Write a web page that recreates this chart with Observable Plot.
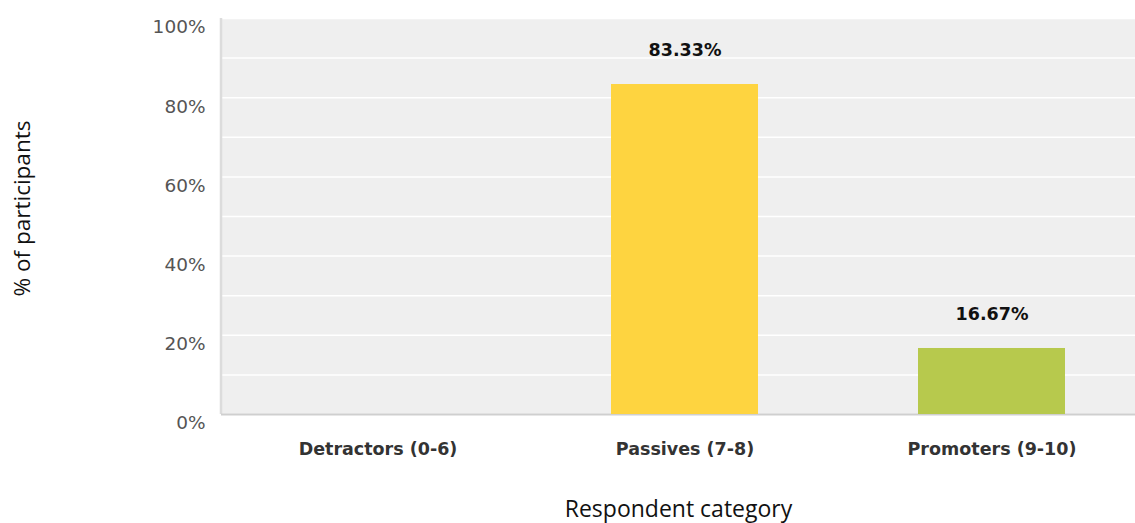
<!DOCTYPE html>
<html>
<head>
<meta charset="utf-8">
<script src="https://cdn.jsdelivr.net/npm/d3@7"></script>
<script src="https://cdn.jsdelivr.net/npm/@observablehq/plot@0.6"></script>
<style>
  html, body { margin: 0; padding: 0; background: #fff; overflow: hidden; }
</style>
</head>
<body>
<div id="chart"></div>
<script>
const categories = ["Detractors (0-6)", "Passives (7-8)", "Promoters (9-10)"];
const values = [0, 83.33, 16.67];
const colors = ["#e05b4b", "#fed440", "#b7c94d"];
const yTicks = [0, 20, 40, 60, 80, 100];
const yGrid = [0, 10, 20, 30, 40, 50, 60, 70, 80, 90, 100];
const xTitle = "Respondent category";
const yTitle = "% of participants";

const data = categories.map((c, i) => ({category: c, value: values[i], color: colors[i]}));

const leftLine = (index, scales, values, dim) => {
  const l = d3.create("svg:line")
    .attr("x1", dim.marginLeft).attr("x2", dim.marginLeft)
    .attr("y1", dim.marginTop).attr("y2", dim.height - dim.marginBottom)
    .attr("stroke", "#dcdcdc").attr("stroke-width", 2.5);
  return l.node();
};

const chart = Plot.plot({
  width: 1135,
  height: 523,
  marginLeft: 221,
  marginRight: 0,
  marginTop: 18,
  marginBottom: 109,
  style: {fontFamily: "'DejaVu Sans', Verdana, sans-serif", background: "#fff"},
  x: {domain: categories, range: [223, 1146], paddingInner: 0.52, paddingOuter: 0.26},
  y: {domain: [0, 100]},
  color: {type: "identity"},
  marks: [
    Plot.frame({fill: "#efefef", stroke: null}),
    Plot.gridY(yGrid, {stroke: "#ffffff", strokeOpacity: 1, strokeWidth: 1.5}),
    leftLine,
    Plot.ruleY([0], {stroke: "#cfcfcf", strokeWidth: 2}),
    Plot.barY(data, {x: "category", y: "value", fill: "color"}),
    Plot.text(data.filter(d => d.value > 0), {
      x: "category", y: "value", text: d => d.value.toFixed(2) + "%",
      dy: -34, fontSize: 17.5, fontWeight: "bold", fill: "#111"
    }),
    Plot.axisY(yTicks, {
      tickSize: 0, tickPadding: 16, dy: 9, fontSize: 18.5, fill: "#555",
      tickFormat: d => d + "%", label: null
    }),
    Plot.axisX({
      tickSize: 0, tickPadding: 28, fontSize: 17.5, fontWeight: "bold", fill: "#333", label: null
    }),
    Plot.text([yTitle], {
      frameAnchor: "left", textAnchor: "middle", rotate: -90, dx: -199, dy: -8,
      fontSize: 22.5, fill: "#111", fontFamily: "'Open Sans', sans-serif"
    }),
    Plot.text([xTitle], {
      frameAnchor: "bottom", dy: 102,
      fontSize: 23, fill: "#111", fontFamily: "'Open Sans', sans-serif"
    })
  ]
});
document.getElementById("chart").appendChild(chart);
</script>
</body>
</html>
